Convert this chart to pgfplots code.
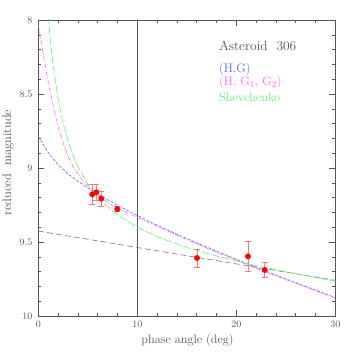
\documentclass[border=0pt]{standalone}
\usepackage{pgfplots}
\pgfplotsset{compat=1.18}
\definecolor{axgray}{RGB}{85,85,85}
\definecolor{hgblue}{RGB}{100,100,255}
\definecolor{hggmag}{RGB}{255,100,255}
\definecolor{shgreen}{RGB}{110,240,110}
\definecolor{lingray}{RGB}{120,120,120}
\definecolor{errred}{RGB}{255,120,120}
\pgfplotstableread{
x y e
5.45 9.178 0.070
5.86 9.164 0.055
6.36 9.207 0.050
7.98 9.277 0.018
16.03 9.608 0.060
21.18 9.597 0.100
22.87 9.689 0.050
}\obsdata
\begin{document}
\begin{tikzpicture}
\path[use as bounding box] (0,0) rectangle (354bp,354bp);
\begin{axis}[
  at={(38.3bp,38bp)}, anchor=south west,
  scale only axis, width=297bp, height=296bp,
  xmin=0, xmax=30, ymin=8, ymax=10, y dir=reverse,
  xtick={0,10,20,30}, minor x tick num=4,
  ytick={8,8.5,9,9.5,10}, minor y tick num=4,
  tick align=inside, major tick length=6bp, minor tick length=3bp,
  axis line style={axgray}, tick style={axgray, line width=0.5pt},
  ticklabel style={font=\fontsize{10}{12}\selectfont, text=axgray},
  yticklabel style={xshift=-2.5bp},
  xticklabel style={yshift=-1bp},
  /pgf/number format/assume math mode=true,
  clip=true,
]
\addplot[axgray, line width=0.5pt] coordinates {(10,8) (10,10)};
\addplot[lingray, line width=0.6pt, dash pattern=on 6bp off 3bp] coordinates {(0,9.426) (30,9.759)};
\addplot[hgblue, line width=0.6pt, dash pattern=on 3bp off 1.5bp] coordinates {
(0,8.786)(1,8.895)(2,8.978)(3,9.039)(4,9.089)(5,9.134)(6,9.176)(8,9.252)(10,9.321)(12,9.386)(15,9.477)(18,9.562)(21,9.644)(24,9.723)(27,9.800)(30,9.876)};
\addplot[hggmag, line width=0.6pt, dash pattern=on 4bp off 1.5bp on 1bp off 1.5bp] coordinates {
(0,8.03)(0.5,8.23)(1,8.42)(1.5,8.58)(2,8.72)(2.5,8.83)(3,8.92)(3.5,8.99)(4,9.04)(4.5,9.085)(5,9.12)(6,9.182)(7,9.232)(8,9.272)(9,9.305)(10,9.333)(12,9.394)(15,9.484)(18,9.569)(21,9.651)(24,9.729)(27,9.804)(30,9.878)};
\addplot[shgreen, line width=0.6pt, dash pattern=on 8bp off 2bp] coordinates {
(1.0,7.973)(1.25,8.159)(1.5,8.308)(2,8.533)(2.5,8.694)(3,8.816)(3.5,8.912)(4,8.990)(5,9.108)(6,9.196)(7,9.263)(8,9.317)(10,9.401)(12,9.464)(15,9.537)(18,9.595)(21,9.644)(24,9.688)(27,9.727)(30,9.764)};
\addplot[only marks, mark=*, mark size=2.7bp, color=red,
  error bars/.cd, y dir=both, y explicit,
  error bar style={errred, line width=0.6pt},
  error mark options={errred, rotate=90, mark size=3bp, line width=0.6pt}]
  table[x=x, y=y, y error=e] {\obsdata};
\node[anchor=west, text=axgray, font=\fontsize{13.5}{15}\selectfont] at (axis cs:17.9,8.174) {Asteroid\ \ 306};
\node[anchor=west, text=hgblue, font=\fontsize{12.5}{14}\selectfont] at (axis cs:17.9,8.331) {(H,G)};
\node[anchor=west, text=hggmag, font=\fontsize{12.5}{14}\selectfont] at (axis cs:17.9,8.424) {(H, G\textsubscript{1}, G\textsubscript{2})};
\node[anchor=west, text=shgreen, font=\fontsize{12.5}{14}\selectfont] at (axis cs:17.9,8.525) {Shevchenko};
\end{axis}
\node[text=axgray, font=\fontsize{12.3}{14}\selectfont] at (187.5bp,14bp) {phase angle (deg)};
\node[text=axgray, rotate=90, font=\fontsize{12.5}{14}\selectfont] at (8bp,191.5bp) {reduced\ \ magnitude};
\end{tikzpicture}
\end{document}
